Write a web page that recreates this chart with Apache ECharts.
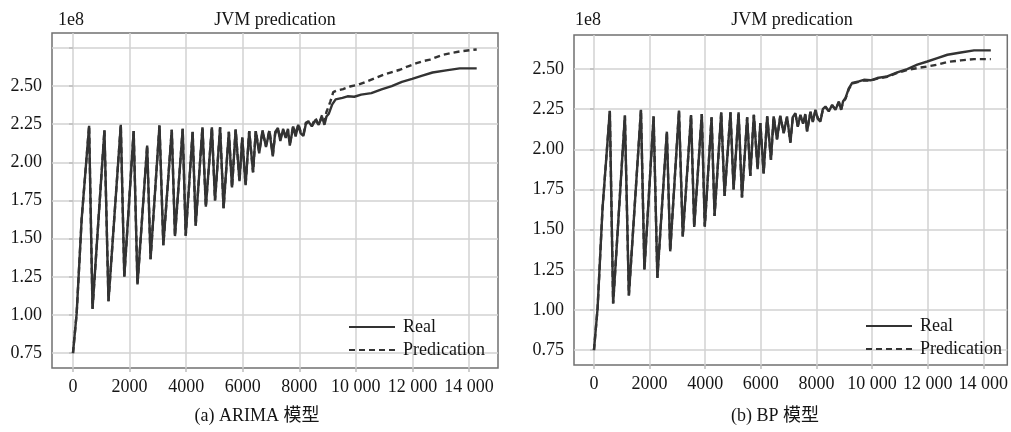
<!DOCTYPE html>
<html>
<head>
<meta charset="utf-8">
<script src="https://cdn.jsdelivr.net/npm/echarts@6/dist/echarts.min.js"></script>
<style>
html,body{margin:0;padding:0;background:#fff;}
#chart{width:1011px;height:432px;}
</style>
</head>
<body>
<div id="chart"></div>
<script>
// ---- data (values in units of 1e8) ----
const chartTitle = 'JVM predication';
const unitLabel = '1e8';
const captions = ['(a) ARIMA 模型', '(b) BP 模型'];
const seriesNames = ['Real', 'Predication'];
const xTicks = [0, 2000, 4000, 6000, 8000, 10000, 12000, 14000];
const yTicks = [0.75, 1.00, 1.25, 1.50, 1.75, 2.00, 2.25, 2.50];
const yTicksLeftGrid = [0.75, 1.00, 1.25, 1.50, 1.75, 2.00, 2.25, 2.50, 2.75];

const realPts = [
  [0,0.75],[130,1.01],[307,1.63],[570,2.24],[690,1.04],[1112,2.21],[1255,1.09],[1690,2.246],
  [1814,1.25],[2145,2.205],[2280,1.20],[2622,2.11],[2742,1.365],[3058,2.242],[3194,1.457],
  [3492,2.213],[3605,1.517],[3878,2.22],[3985,1.519],[4230,2.20],[4337,1.585],[4577,2.23],
  [4697,1.71],[4910,2.23],[5021,1.75],[5201,2.23],[5323,1.70],[5510,2.20],[5622,1.835],
  [5750,2.215],[5886,1.876],[5983,2.163],[6102,1.85],[6230,2.205],[6366,1.935],[6462,2.205],
  [6583,2.06],[6700,2.21],[6823,2.10],[6943,2.205],[7064,2.04],[7150,2.20],[7244,2.225],
  [7330,2.14],[7424,2.215],[7520,2.16],[7600,2.22],[7665,2.11],[7785,2.235],[7870,2.17],
  [7965,2.246],[8050,2.19],[8145,2.173],[8230,2.25],[8325,2.267],[8445,2.236],[8566,2.277],
  [8686,2.246],[8806,2.298],[8890,2.246],[8960,2.30],[9045,2.319],[9165,2.38],[9286,2.413],
  [9526,2.423],[9706,2.433],[9946,2.43],[10187,2.444],[10548,2.454],[10908,2.479],[11268,2.50],
  [11628,2.527],[11989,2.547],[12350,2.568],[12711,2.589],[13191,2.603],[13671,2.616],[14272,2.616]
];

const arimaPredPts = [
  [0,0.75],[130,1.01],[307,1.63],[570,2.24],[690,1.04],[1112,2.21],[1255,1.09],[1690,2.246],
  [1814,1.25],[2145,2.205],[2280,1.20],[2622,2.11],[2742,1.365],[3058,2.242],[3194,1.457],
  [3492,2.213],[3605,1.517],[3878,2.22],[3985,1.519],[4230,2.20],[4337,1.585],[4577,2.23],
  [4697,1.71],[4910,2.23],[5021,1.75],[5201,2.23],[5323,1.70],[5510,2.20],[5622,1.835],
  [5750,2.215],[5886,1.876],[5983,2.163],[6102,1.85],[6230,2.205],[6366,1.935],[6462,2.205],
  [6583,2.07],[6700,2.20],[6823,2.11],[6943,2.21],[7064,2.05],[7150,2.19],[7244,2.22],
  [7330,2.15],[7424,2.22],[7520,2.17],[7600,2.21],[7665,2.12],[7785,2.24],[7870,2.18],
  [7965,2.25],[8050,2.20],[8145,2.18],[8230,2.26],[8325,2.27],[8445,2.24],[8566,2.29],
  [8686,2.25],[8806,2.31],[8890,2.27],[8960,2.33],[9023,2.36],[9100,2.40],[9200,2.46],
  [9319,2.47],[9550,2.48],[9789,2.497],[10100,2.51],[10379,2.53],[10650,2.55],[10966,2.574],
  [11250,2.59],[11556,2.607],[11850,2.63],[12146,2.65],[12400,2.665],[12617,2.673],
  [12850,2.69],[13086,2.705],[13400,2.718],[13677,2.727],[14147,2.738],[14272,2.74]
];

const bpPredPts = [
  [0,0.75],[130,1.01],[307,1.63],[570,2.24],[690,1.04],[1112,2.21],[1255,1.09],[1690,2.246],
  [1814,1.25],[2145,2.205],[2280,1.20],[2622,2.11],[2742,1.365],[3058,2.242],[3194,1.457],
  [3492,2.213],[3605,1.517],[3878,2.22],[3985,1.519],[4230,2.20],[4337,1.585],[4577,2.23],
  [4697,1.71],[4910,2.23],[5021,1.75],[5201,2.23],[5323,1.70],[5510,2.20],[5622,1.835],
  [5750,2.215],[5886,1.876],[5983,2.163],[6102,1.85],[6230,2.205],[6366,1.935],[6462,2.205],
  [6583,2.065],[6700,2.205],[6823,2.105],[6943,2.20],[7064,2.045],[7150,2.195],[7244,2.22],
  [7330,2.145],[7424,2.21],[7520,2.165],[7600,2.215],[7665,2.115],[7785,2.23],[7870,2.175],
  [7965,2.24],[8050,2.195],[8145,2.178],[8230,2.245],[8325,2.262],[8445,2.24],[8566,2.272],
  [8686,2.25],[8806,2.292],[8890,2.25],[8960,2.295],[9045,2.315],[9165,2.375],[9286,2.41],
  [9526,2.42],[9706,2.43],[9946,2.428],[10187,2.44],[10548,2.452],[10908,2.476],[11268,2.495],
  [11628,2.506],[11989,2.516],[12350,2.527],[12711,2.544],[13191,2.554],[13671,2.562],[14272,2.562]
];

// ---- chart ----
const FONT = '"Liberation Serif", "Times New Roman", serif';
const CJKFONT = '"Liberation Serif", "Noto Sans CJK SC", serif';
const LINE_COLOR = '#333333';
const TEXT_COLOR = '#151515';

function fmtX(v) {
  if (v >= 10000) {
    const s = String(v);
    return s.slice(0, s.length - 3) + ' ' + s.slice(s.length - 3);
  }
  return String(v);
}

function xAxisCfg(gridIndex, min, max) {
  return {
    type: 'value', gridIndex, min, max,
    axisLine: {show: false},
    axisTick: {show: true, length: 4, customValues: xTicks, lineStyle: {color: '#bdbdbd', width: 1.5}},
    axisLabel: {customValues: xTicks, formatter: fmtX, fontFamily: FONT, fontSize: 18, color: TEXT_COLOR, margin: 10},
    splitLine: {show: true, lineStyle: {color: '#d2d2d2', width: 1.5}}
  };
}
function yAxisCfg(gridIndex, min, max, ticks) {
  return {
    type: 'value', gridIndex, min, max,
    axisLine: {show: false},
    axisTick: {show: true, length: 4, customValues: ticks, lineStyle: {color: '#bdbdbd', width: 1.5}},
    axisLabel: {customValues: yTicks, formatter: v => v.toFixed(2), fontFamily: FONT, fontSize: 18, color: TEXT_COLOR, margin: 10},
    splitLine: {show: true, lineStyle: {color: '#d2d2d2', width: 1.5}}
  };
}
function lineSeries(name, idx, pts, dashed) {
  return {
    name, type: 'line', xAxisIndex: idx, yAxisIndex: idx, data: pts,
    symbol: 'none', animation: false, silent: true,
    lineStyle: {color: LINE_COLOR, width: 2.4, type: dashed ? [6, 4] : 'solid'},
    itemStyle: {color: LINE_COLOR}
  };
}
function legendCfg(left, top) {
  return {
    data: seriesNames, orient: 'vertical', left, top,
    itemWidth: 46, itemHeight: 10, itemGap: 5,
    itemStyle: {opacity: 0},
    lineStyle: {opacity: 1, width: 2, color: LINE_COLOR},
    textStyle: {fontFamily: FONT, fontSize: 18, color: TEXT_COLOR, lineHeight: 18, padding: [0, 0, 0, 3]},
    selectedMode: false
  };
}
function titleCfg(text, left, top, font) {
  return {text, left, top, textAlign: 'center',
    textStyle: {fontFamily: font || FONT, fontSize: 18, fontWeight: 'normal', color: TEXT_COLOR}};
}

const chart = echarts.init(document.getElementById('chart'), null, {renderer: 'canvas'});
chart.setOption({
  backgroundColor: '#fff',
  animation: false,
  title: [
    titleCfg(chartTitle, 270, 6),
    titleCfg(unitLabel, 66, 6),
    titleCfg(chartTitle, 787, 6),
    titleCfg(unitLabel, 583, 6),
    titleCfg(captions[0], 252, 402, CJKFONT),
    titleCfg(captions[1], 770, 402, CJKFONT)
  ],
  legend: [legendCfg(343, 313), legendCfg(860, 312)],
  grid: [
    {left: 52, top: 33, width: 446, height: 335, show: true, borderColor: '#707070', borderWidth: 1.5, backgroundColor: 'transparent'},
    {left: 574, top: 35, width: 434, height: 330, show: true, borderColor: '#707070', borderWidth: 1.5, backgroundColor: 'transparent'}
  ],
  xAxis: [xAxisCfg(0, -742, 15025), xAxisCfg(1, -718, 14865)],
  yAxis: [yAxisCfg(0, 0.652, 2.848, yTicksLeftGrid), yAxisCfg(1, 0.657, 2.712, yTicks)],
  series: [
    lineSeries(seriesNames[1], 0, arimaPredPts, true),
    lineSeries(seriesNames[0], 0, realPts, false),
    lineSeries(seriesNames[1], 1, bpPredPts, true),
    lineSeries(seriesNames[0], 1, realPts, false)
  ]
});
</script>
</body>
</html>
